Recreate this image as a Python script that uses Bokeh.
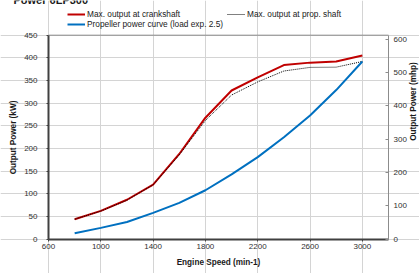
import math
from bokeh.plotting import figure
from bokeh.models import (Range1d, LinearAxis, FixedTicker, Legend, LegendItem, Label)
from bokeh.embed import file_html
from bokeh.resources import INLINE

title_text = "Power 6LP300"
rpm = [800, 1000, 1200, 1400, 1600, 1800, 2000, 2200, 2400, 2600, 2800, 3000]
crankshaft = [44, 62.5, 87, 120.5, 188, 268, 328, 357, 384, 389.5, 392, 405]
prop_shaft = [44, 62, 86, 120, 186, 262, 318, 347, 371, 379, 379.5, 392]
propeller = [13, 25, 38, 58, 80, 108, 143, 181, 225, 273, 329, 392]
x_ticks = [600, 1000, 1400, 1800, 2200, 2600, 3000]
y_ticks = [0, 50, 100, 150, 200, 250, 300, 350, 400, 450]
mhp_ticks = [0, 100, 200, 300, 400, 500, 600]
KW_PER_MHP = 0.7355
X_MIN, X_MAX, Y_MAX = 600, 3200, 450

FONT = "Liberation Sans"
W, H = 419, 273

# the frame covers the whole canvas; axes are drawn at fixed data locations
PLOT_L, PLOT_R, PLOT_T, PLOT_B = 48.0, 388.0, 34.7, 238.7
px_x = (PLOT_R - PLOT_L) / (X_MAX - X_MIN)
px_y = (PLOT_B - PLOT_T) / Y_MAX
x0 = X_MIN - PLOT_L / px_x
x1 = X_MAX + (W - PLOT_R) / px_x
y0 = -(H - PLOT_B) / px_y
y1 = PLOT_B / px_y

p = figure(width=W, height=H, x_range=Range1d(x0, x1), y_range=Range1d(y0, y1),
           output_backend="svg", toolbar_location=None,
           min_border_left=0, min_border_right=0, min_border_top=0, min_border_bottom=0)
p.extra_y_ranges = {"mhp": Range1d(y0 / KW_PER_MHP, y1 / KW_PER_MHP)}

p.background_fill_color = "white"
p.border_fill_color = "white"
p.outline_line_color = None

p.xgrid.ticker = FixedTicker(ticks=x_ticks)
p.ygrid.ticker = FixedTicker(ticks=y_ticks)
p.xgrid.bounds = (0, Y_MAX)
p.ygrid.bounds = (X_MIN, X_MAX)
for g in (p.xgrid, p.ygrid):
    g.grid_line_color = "#d4d4d4"
    g.grid_line_width = 1

# top border line at 450
p.segment(x0=[X_MIN], y0=[Y_MAX], x1=[X_MAX], y1=[Y_MAX], line_color="#8c8c8c", line_width=1)

xa = p.xaxis[0]
xa.fixed_location = 0
xa.bounds = (X_MIN, X_MAX)
xa.ticker = FixedTicker(ticks=x_ticks)
xa.axis_label = "Engine Speed (min-1)"
xa.axis_line_color = "#404040"
xa.axis_line_width = 2
xa.major_tick_out = 2
xa.major_tick_in = 0
xa.minor_tick_out = 0
xa.minor_tick_in = 0
xa.major_tick_line_color = "#404040"
xa.major_label_standoff = 3
xa.axis_label_standoff = 5

ya = p.yaxis[0]
ya.fixed_location = X_MIN
ya.ticker = FixedTicker(ticks=y_ticks)
ya.bounds = (0, Y_MAX)
ya.axis_label = "Output Power (kW)"
ya.axis_line_color = "#404040"
ya.axis_line_width = 2
ya.major_tick_out = 2
ya.major_tick_in = 0
ya.minor_tick_out = 0
ya.minor_tick_in = 0
ya.major_tick_line_color = "#404040"
ya.major_label_standoff = 9
ya.axis_label_standoff = 3

ra = LinearAxis(y_range_name="mhp", ticker=FixedTicker(ticks=mhp_ticks))
ra.fixed_location = X_MAX
ra.bounds = (0, Y_MAX / KW_PER_MHP)
ra.axis_line_color = "#8c8c8c"
ra.axis_line_width = 1
ra.major_tick_in = 3
ra.major_tick_out = 0
ra.minor_tick_in = 0
ra.minor_tick_out = 0
ra.major_tick_line_color = "#8c8c8c"
ra.major_label_standoff = 5
p.add_layout(ra, "right")

for ax in (xa, ya, ra):
    ax.major_label_text_font = FONT
    ax.major_label_text_font_size = "8px"
    ax.major_label_text_color = "#303030"
    ax.axis_label_text_font = FONT
    ax.axis_label_text_font_size = "8.2px"
    ax.axis_label_text_font_style = "bold"
    ax.axis_label_text_color = "#1a1a1a"

r_crank = p.line(rpm, crankshaft, line_color="#c00000", line_width=2)
r_prop = p.line(rpm, prop_shaft, line_color="#000000", line_width=1, line_dash="1 1")
r_curve = p.line(rpm, propeller, line_color="#0070c0", line_width=2)

def style_legend(lg):
    lg.padding = 0
    lg.margin = 0
    lg.spacing = 0
    lg.border_line_color = None
    lg.background_fill_alpha = 0
    lg.glyph_width = 18
    lg.glyph_height = 10
    lg.label_height = 10
    lg.label_standoff = 2
    lg.label_text_font = FONT
    lg.label_text_font_size = "8.3px"
    lg.label_text_color = "#1a1a1a"

# legend locations are measured in pixels from the frame's bottom-left corner
leg1 = Legend(items=[LegendItem(label="Max. output at crankshaft", renderers=[r_crank]),
                     LegendItem(label="Propeller power curve (load exp. 2.5)", renderers=[r_curve])],
              location=(67, H - 29), orientation="vertical")
leg2 = Legend(items=[LegendItem(label="Max. output at prop. shaft", renderers=[r_prop])],
              location=(227, H - 19), orientation="vertical")
style_legend(leg1)
style_legend(leg2)
p.add_layout(leg1, "center")
p.add_layout(leg2, "center")

# the reference shows only the lower part of this heading (cut at the top edge)
title = Label(x=13, y=H + 1, x_units="screen", y_units="screen", text=title_text,
              text_font=FONT, text_font_size="11px", text_font_style="bold",
              text_baseline="alphabetic", text_align="left", text_color="#1a1a1a")
p.add_layout(title)

rlabel = Label(x=413, y=H - 101, x_units="screen", y_units="screen",
               text="Output Power (mhp)", angle=math.pi / 2,
               text_font=FONT, text_font_size="8.2px", text_font_style="bold",
               text_baseline="middle", text_align="center", text_color="#1a1a1a")
p.add_layout(rlabel)

open("out.html", "w").write(file_html(p, INLINE))
